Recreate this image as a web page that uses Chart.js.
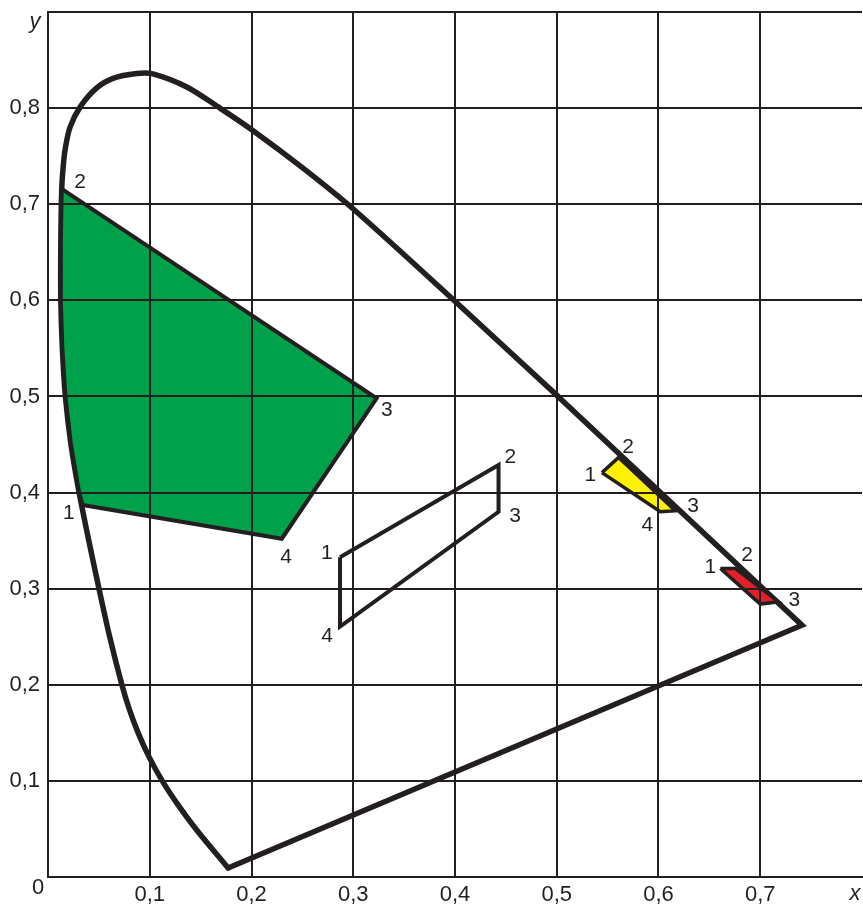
<!DOCTYPE html>
<html>
<head>
<meta charset="utf-8">
<script src="https://cdn.jsdelivr.net/npm/chart.js@4"></script>
<style>
  html, body { margin: 0; padding: 0; background: #fff; }
  canvas { display: block; }
</style>
</head>
<body>
<canvas id="grafico" width="863" height="904"></canvas>
<script>
// Spectral locus (curved part)
const locusCurve = [
    [0.177, 0.0094], [0.1453, 0.050], [0.1278, 0.075], [0.1123, 0.100],
    [0.0993, 0.125], [0.0886, 0.150], [0.0798, 0.175], [0.0726, 0.200],
    [0.0606, 0.250], [0.0501, 0.300], [0.0401, 0.350], [0.0306, 0.400],
    [0.0226, 0.450], [0.0171, 0.500], [0.0141, 0.550], [0.0126, 0.600],
    [0.0126, 0.660], [0.0135, 0.716], [0.0147, 0.736], [0.0167, 0.756],
    [0.0216, 0.780], [0.032, 0.8018], [0.0479, 0.821], [0.0639, 0.831],
    [0.0872, 0.836], [0.103, 0.8356], [0.1364, 0.822], [0.169, 0.800],
    [0.2016, 0.7765], [0.250, 0.738], [0.300, 0.695], [0.400, 0.599],
    [0.5015, 0.4998]
];
// Straight part: down to red end, then the purple line
const locusStraight = [[0.5015, 0.4998], [0.741, 0.262], [0.177, 0.0094]];

// Areas (vertex 1..4, closed)
const greenArea = [
    [0.034, 0.387], [0.0306, 0.400], [0.0226, 0.450], [0.0171, 0.500],
    [0.0141, 0.550], [0.0126, 0.600], [0.0126, 0.660], [0.0135, 0.716],
    [0.323, 0.498], [0.2298, 0.352], [0.034, 0.387]
];
const whiteArea = [[0.287, 0.3326], [0.4428, 0.4287], [0.4428, 0.380], [0.287, 0.2605], [0.287, 0.3326]];
const yellowArea = [[0.5444, 0.4207], [0.5608, 0.4366], [0.6165, 0.381], [0.6018, 0.380], [0.5444, 0.4207]];
const redArea = [[0.6608, 0.321], [0.6755, 0.321], [0.718, 0.2864], [0.700, 0.284], [0.6608, 0.321]];

// Vertex numbers and where they sit (data coords)
const vertexNames = ['1', '2', '3', '4'];
const greenNums = [[0.0206, 0.379], [0.0315, 0.723], [0.333, 0.486], [0.234, 0.333]];
const whiteNums = [[0.274, 0.337], [0.4543, 0.437], [0.459, 0.3757], [0.2743, 0.2508]];
const yellowNums = [[0.533, 0.4183], [0.570, 0.4475], [0.634, 0.386], [0.589, 0.366]];
const redNums = [[0.651, 0.3226], [0.687, 0.335], [0.7335, 0.288]];

const INK = '#231f20';
const FONT = '"Liberation Sans", Arial, sans-serif';

const pts = arr => arr.map(p => ({ x: p[0], y: p[1] }));
const coma = v => v.toFixed(1).replace('.', ',');

function area(data, fillColor, width) {
    return {
        data: pts(data),
        showLine: true,
        pointRadius: 0,
        borderColor: INK,
        borderWidth: width,
        borderJoinStyle: 'miter',
        backgroundColor: fillColor || 'rgba(0,0,0,0)',
        fill: fillColor ? 'shape' : false,
        tension: 0
    };
}

// numbers and axis letters
const etiquetas = {
    id: 'etiquetas',
    afterDraw(chart) {
        const { ctx, scales } = chart;
        ctx.save();
        ctx.fillStyle = INK;
        ctx.textAlign = 'center';
        ctx.textBaseline = 'middle';
        ctx.font = '21px ' + FONT;
        [greenNums, whiteNums, yellowNums, redNums].forEach(grupo => {
            grupo.forEach((p, i) => {
                ctx.fillText(vertexNames[i], scales.x.getPixelForValue(p[0]), scales.y.getPixelForValue(p[1]));
            });
        });
        ctx.font = '22px ' + FONT;
        ctx.fillText('0', scales.x.left - 10, scales.y.bottom + 11);
        ctx.font = 'italic 22px ' + FONT;
        ctx.fillText('x', scales.x.right - 7, scales.y.bottom + 17);
        ctx.fillText('y', scales.x.left - 13, scales.y.top + 10);
        ctx.restore();
    }
};

new Chart(document.getElementById('grafico'), {
    type: 'scatter',
    data: {
        datasets: [
            area(greenArea, '#00a14b', 4),
            area(whiteArea, null, 4),
            area(yellowArea, '#fff200', 3.5),
            area(redArea, '#e3202a', 3.5),
            {
                data: pts(locusCurve),
                showLine: true,
                pointRadius: 0,
                borderColor: INK,
                borderWidth: 5.5,
                borderCapStyle: 'round',
                tension: 0.3,
                fill: false
            },
            {
                data: pts(locusStraight),
                showLine: true,
                pointRadius: 0,
                borderColor: INK,
                borderWidth: 5.5,
                borderCapStyle: 'round',
                borderJoinStyle: 'miter',
                tension: 0,
                fill: false
            }
        ]
    },
    options: {
        responsive: false,
        animation: false,
        layout: { padding: { top: 12, right: 1, left: 0, bottom: 0 } },
        plugins: { legend: { display: false }, tooltip: { enabled: false } },
        scales: {
            x: {
                type: 'linear',
                min: 0,
                max: 0.8,
                afterFit: s => { s.height = 27; s.paddingLeft = 0; s.paddingRight = 0; },
                ticks: {
                    stepSize: 0.1,
                    padding: 5,
                    color: INK,
                    font: { family: FONT, size: 22 },
                    maxRotation: 0,
                    callback: v => (v < 0.05 || v > 0.75) ? '' : coma(v)
                },
                grid: {
                    z: 1,
                    lineWidth: 2,
                    drawTicks: false,
                    color: c => (c.tick && c.tick.value > 0.79) ? 'rgba(0,0,0,0)' : INK
                },
                border: { z: 1, color: INK, width: 2 }
            },
            y: {
                type: 'linear',
                min: 0,
                max: 0.9,
                afterFit: s => { s.width = 48; s.paddingTop = 0; s.paddingBottom = 0; },
                ticks: {
                    stepSize: 0.1,
                    padding: 8,
                    color: INK,
                    font: { family: FONT, size: 22 },
                    callback: v => (v < 0.05 || v > 0.85) ? '' : coma(v)
                },
                grid: { z: 1, lineWidth: 2, drawTicks: false, color: INK },
                border: { z: 1, color: INK, width: 2 }
            }
        }
    },
    plugins: [etiquetas]
});
</script>
</body>
</html>
